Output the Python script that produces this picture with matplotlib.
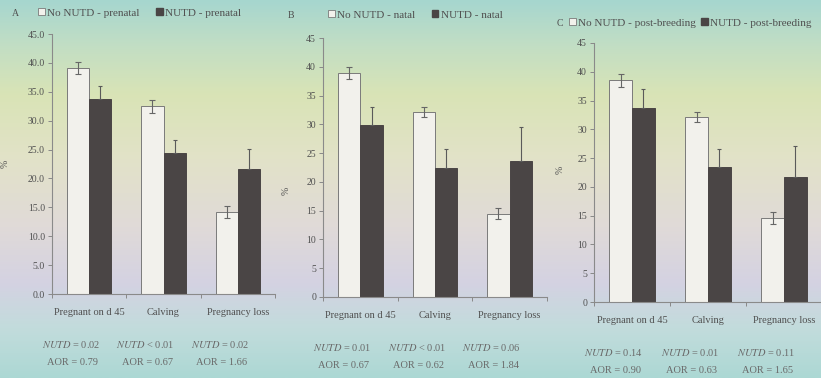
import matplotlib.pyplot as plt
import numpy as np
from matplotlib.colors import to_rgb
from matplotlib.patches import Patch
import matplotlib.transforms as mtransforms

plt.rcParams['font.family'] = ['Liberation Serif', 'DejaVu Sans']
plt.rcParams['mathtext.fontset'] = 'stix'

categories = ["Pregnant on d 45", "Calving", "Pregnancy loss"]

# panel A - prenatal
a_no = [39.1, 32.5, 14.2]
a_no_err = [1.0, 1.1, 1.0]
a_nutd = [33.7, 24.4, 21.6]
a_nutd_err = [2.3, 2.2, 3.5]
a_p = ["= 0.02", "< 0.01", "= 0.02"]
a_aor = ["0.79", "0.67", "1.66"]

# panel B - natal
b_no = [38.9, 32.1, 14.5]
b_no_err = [1.0, 0.9, 0.9]
b_nutd = [29.9, 22.5, 23.6]
b_nutd_err = [3.1, 3.2, 5.9]
b_p = ["= 0.01", "< 0.01", "= 0.06"]
b_aor = ["0.67", "0.62", "1.84"]

# panel C - post-breeding
c_no = [38.5, 32.1, 14.6]
c_no_err = [1.1, 0.9, 1.0]
c_nutd = [33.7, 23.5, 21.7]
c_nutd_err = [3.3, 3.0, 5.4]
c_p = ["= 0.14", "= 0.01", "= 0.11"]
c_aor = ["0.90", "0.63", "1.65"]

W, H = 821, 378
fig = plt.figure(figsize=(W / 100, H / 100), dpi=100)

# projected-slide background
stops = [0.0, 0.12, 0.25, 0.42, 0.6, 0.75, 0.87, 1.0]
cols = np.array([to_rgb(c) for c in ["#a6d6cf", "#c2dec4", "#d9e4b6", "#e2e2c8",
                                     "#e0dad8", "#d4d2e2", "#c2dcdc", "#acd8d4"]])
yy = np.linspace(0, 1, H)
img = np.stack([np.interp(yy, stops, cols[:, k]) for k in range(3)], axis=1)
img = np.repeat(img[:, None, :], W, axis=1)
bg = fig.add_axes([0, 0, 1, 1], zorder=-1)
bg.imshow(img, aspect='auto', extent=[0, 1, 0, 1])
bg.axis('off')

txt = "#505050"
panels = [
    ("A", "prenatal", a_no, a_no_err, a_nutd, a_nutd_err, a_p, a_aor,
     [52, 294, 223, 260], "%.1f", (12, 13), (38, 13), (-0.19, 0.5), 1.5),
    ("B", "natal", b_no, b_no_err, b_nutd, b_nutd_err, b_p, b_aor,
     [323, 297, 224, 259], "%d", (288, 15), (328, 15), (-0.143, 0.41), 1.5),
    ("C", "post-breeding", c_no, c_no_err, c_nutd, c_nutd_err, c_p, c_aor,
     [594, 302, 228, 259], "%d", (557, 23), (569, 23), (-0.127, 0.51), 0.5),
]

x = np.arange(len(categories)) + 0.5
bw = 0.3
for (letter, period, no, no_err, nu, nu_err, pv, aor, box, fmt,
     lpos, legpos, ylab, colsp) in panels:
    l, b, w, h = box
    ax = fig.add_axes([l / W, 1 - b / H, w / W, h / H])
    ax.set_facecolor('none')
    ax.bar(x - bw / 2, no, bw, color="#f2f1ec", edgecolor="#7a7a7a", linewidth=0.7)
    ax.bar(x + bw / 2, nu, bw, color="#4a4545", edgecolor="#4a4545", linewidth=0.7)
    ax.errorbar(x - bw / 2, no, yerr=no_err, fmt='none', ecolor="#666666",
                elinewidth=0.8, capsize=2.5, capthick=0.8)
    ax.errorbar(x + bw / 2, nu, yerr=[np.zeros(3), nu_err], fmt='none',
                ecolor="#5a5a5a", elinewidth=0.8, capsize=1.5, capthick=0.8)
    ax.set_xlim(0, 3)
    ax.set_ylim(0, 45)
    ax.set_yticks(np.arange(0, 46, 5))
    ax.yaxis.set_major_formatter(plt.FormatStrFormatter(fmt))
    ax.set_xticks(x)
    ax.set_xticklabels(categories)
    ax.set_xticks([0, 1, 2, 3], minor=True)
    ax.tick_params(axis='x', which='major', length=0, pad=10, labelsize=7.5,
                   labelcolor=txt)
    ax.tick_params(axis='x', which='minor', length=3, color="#888888", width=0.7)
    ax.tick_params(axis='y', length=3, color="#888888", width=0.7, labelsize=7,
                   labelcolor=txt, pad=2)
    for s in ['top', 'right']:
        ax.spines[s].set_visible(False)
    for s in ['left', 'bottom']:
        ax.spines[s].set_color("#8a8a8a")
        ax.spines[s].set_linewidth(0.8)
    ax.set_ylabel("%", fontsize=7, color=txt)
    ax.yaxis.set_label_coords(*ylab)

    tr = mtransforms.blended_transform_factory(ax.transData, ax.transAxes)
    for xi, p, o in zip(x, pv, aor):
        ax.text(xi - 0.24, -0.196, r"$\it{NUTD}$ " + p, transform=tr,
                ha='center', va='center', fontsize=7.5, color="#6a6a6a")
        ax.text(xi - 0.22, -0.265, "AOR = " + o, transform=tr,
                ha='center', va='center', fontsize=7.5, color="#6a6a6a")

    fig.text(lpos[0] / W, 1 - lpos[1] / H, letter, fontsize=7, color=txt,
             va='center')
    handles = [Patch(facecolor="#f2f1ec", edgecolor="#7a7a7a", linewidth=0.6),
               Patch(facecolor="#4a4545", edgecolor="#4a4545")]
    fig.legend(handles, ["No NUTD - " + period, "NUTD - " + period],
               loc='center left', bbox_to_anchor=(legpos[0] / W, 1 - legpos[1] / H),
               ncol=2, frameon=False, fontsize=8, handlelength=0.6,
               handleheight=0.6, handletextpad=0.2, columnspacing=colsp,
               borderpad=0, borderaxespad=0, labelcolor=txt)

fig.savefig("out.png", dpi=100)
